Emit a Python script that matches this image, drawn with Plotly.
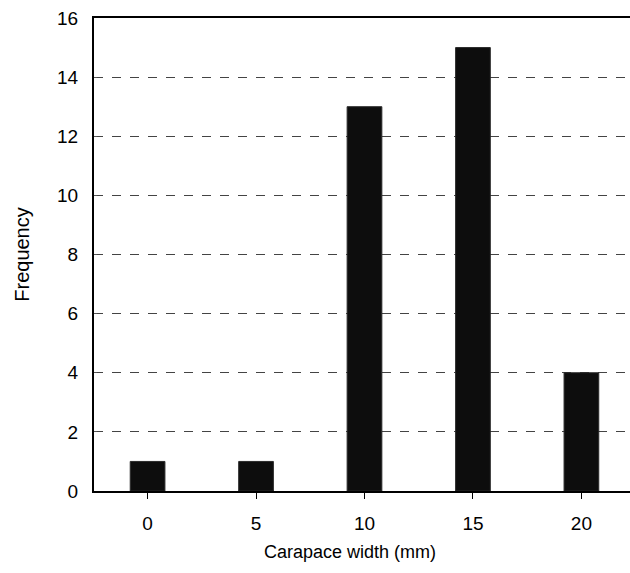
import plotly.graph_objects as go

# Carapace width classes (mm) and their frequencies
widths = [0, 5, 10, 15, 20]
frequency = [1, 1, 13, 15, 4]
y_ticks = [0, 2, 4, 6, 8, 10, 12, 14, 16]
x_ticks = [0, 5, 10, 15, 20]

font = "Liberation Sans, Arial, sans-serif"

fig = go.Figure(
    go.Bar(
        x=widths,
        y=frequency,
        width=1.6,
        marker=dict(color="#0d0d0d", line=dict(color="#2a2a2a", width=1)),
    )
)

fig.update_layout(
    width=630,
    height=573,
    margin=dict(l=94, r=0, t=18, b=82),
    paper_bgcolor="white",
    plot_bgcolor="white",
    showlegend=False,
    font=dict(family=font, size=18, color="black"),
)

fig.update_xaxes(
    range=[-2.47, 22.24],
    tickvals=x_ticks,
    ticks="outside",
    ticklen=6,
    tickwidth=1,
    tickcolor="black",
    ticklabelstandoff=8,
    showline=True,
    linecolor="black",
    linewidth=2,
    mirror=True,
    showgrid=False,
    zeroline=False,
    tickfont=dict(size=19),
)

# x-axis title, placed slightly left of the plot centre
fig.add_annotation(
    text="Carapace width (mm)",
    xref="paper",
    yref="paper",
    x=0.4776,
    y=-0.129,
    xanchor="center",
    yanchor="middle",
    showarrow=False,
    font=dict(size=18),
)

fig.update_yaxes(
    range=[0, 16],
    tickvals=y_ticks,
    ticks="inside",
    ticklen=3,
    tickwidth=1,
    tickcolor="#555555",
    ticklabelstandoff=10,
    showline=True,
    linecolor="black",
    linewidth=2,
    showgrid=True,
    gridcolor="#444444",
    gridwidth=1,
    griddash="dash",
    zeroline=False,
    title=dict(text="Frequency", standoff=22, font=dict(size=20)),
    tickfont=dict(size=19),
)

fig.write_html("out.html")
